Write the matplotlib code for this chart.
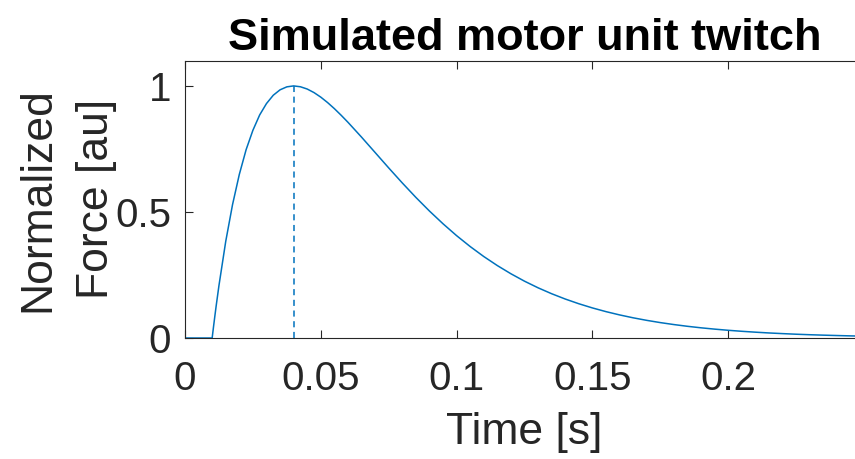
import matplotlib
matplotlib.use("Agg")
import matplotlib.pyplot as plt

plt.rcParams['font.family'] = ['Liberation Sans', 'DejaVu Sans']

time_s = [0.0, 0.005, 0.01, 0.0105, 0.011, 0.0115, 0.0125, 0.015, 0.0175, 0.02, 0.0225, 0.025, 0.0275,
          0.03, 0.0325, 0.035, 0.0375, 0.04, 0.0425, 0.045, 0.0475, 0.05, 0.0525, 0.055, 0.0575, 0.06, 0.065,
          0.07, 0.075, 0.08, 0.085, 0.09, 0.095, 0.1, 0.105, 0.11, 0.115,
          0.12, 0.125, 0.13, 0.135, 0.14, 0.145, 0.15, 0.155, 0.16, 0.165,
          0.17, 0.175, 0.18, 0.185, 0.19, 0.195, 0.2, 0.205, 0.21, 0.215,
          0.22, 0.225, 0.23, 0.235, 0.24, 0.245, 0.25]
force = [0.0, 0.0, 0.0, 0.0446, 0.0876, 0.1293, 0.208, 0.3835, 0.529, 0.649, 0.747, 0.824, 0.885,
         0.930, 0.963, 0.9845, 0.9963, 1.0, 0.9966, 0.9876, 0.9735, 0.9554, 0.9339, 0.9098, 0.8835, 0.8557, 0.7968,
         0.7358, 0.6747, 0.6151, 0.5578, 0.5037, 0.4531, 0.4060, 0.3628, 0.3232, 0.2873,
         0.2548, 0.2254, 0.1991, 0.1756, 0.1546, 0.1359, 0.1193, 0.1046, 0.0916, 0.0801,
         0.0700, 0.0611, 0.0533, 0.0464, 0.0404, 0.0352, 0.0306, 0.0266, 0.0231, 0.0200,
         0.0174, 0.0150, 0.0130, 0.0113, 0.0098, 0.0084, 0.0073]
peak_time = 0.04
peak_force = 1.0

xticks = [0, 0.05, 0.1, 0.15, 0.2]
xticklabels = ['0', '0.05', '0.1', '0.15', '0.2']
yticks = [0, 0.5, 1]
yticklabels = ['0', '0.5', '1']

blue = '#0072BD'
axcol = '#262626'

fig = plt.figure(figsize=(8.55, 4.59), dpi=100)
ax = fig.add_axes([185/855, (459-338)/459, (864-185)/855, (338-60.7)/459])

ax.plot(time_s, force, color=blue, lw=1.1, clip_on=True)
ax.plot([peak_time, peak_time], [0, peak_force], color=blue, lw=1.1, ls=(0, (4, 3)))

ax.set_xlim(0, 0.25)
ax.set_ylim(0, 1.1)
ax.set_xticks(xticks)
ax.set_xticklabels(xticklabels)
ax.set_yticks(yticks)
ax.set_yticklabels(yticklabels)

for s in ax.spines.values():
    s.set_color(axcol)
    s.set_linewidth(0.8)
ax.tick_params(direction='in', length=6, width=0.8, color=axcol, labelcolor=axcol,
               labelsize=29, top=True, right=True)
ax.tick_params(axis='x', pad=16)
ax.tick_params(axis='y', pad=10)

ax.set_xlabel('Time [s]', fontsize=32, color=axcol, labelpad=10)
ax.set_ylabel('Normalized\nForce [au]', fontsize=32, color=axcol, labelpad=-1, linespacing=1.55)
ax.set_title('Simulated motor unit twitch', fontsize=32.5, fontweight='bold', color='black', pad=8)

fig.savefig('out.png', dpi=100)
